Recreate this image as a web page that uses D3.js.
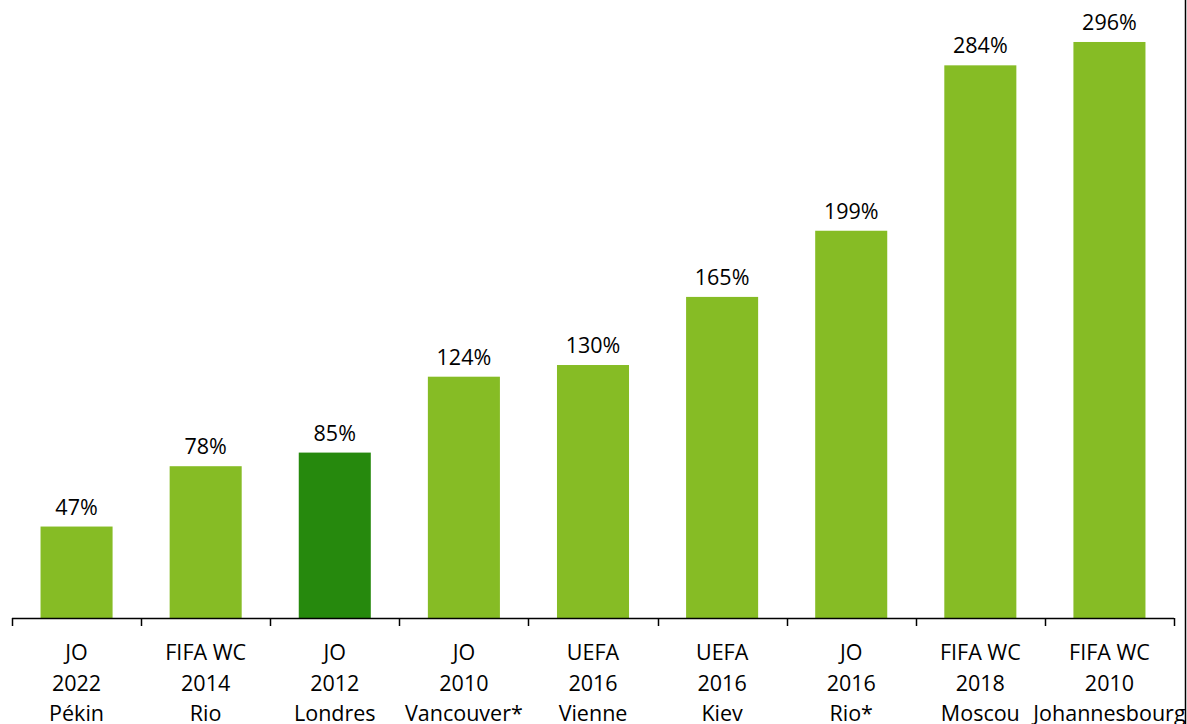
<!DOCTYPE html>
<html><head><meta charset="utf-8">
<script src="https://cdn.jsdelivr.net/npm/d3@7"></script>
<style>body{margin:0;background:#fff}svg{display:block}text{font-family:"Open Sans",sans-serif;fill:#000}</style>
</head><body>
<svg id="c" width="1187" height="724"></svg>
<script>
const categories = [
  ["JO","2022","Pékin"],
  ["FIFA WC","2014","Rio"],
  ["JO","2012","Londres"],
  ["JO","2010","Vancouver*"],
  ["UEFA","2016","Vienne"],
  ["UEFA","2016","Kiev"],
  ["JO","2016","Rio*"],
  ["FIFA WC","2018","Moscou"],
  ["FIFA WC","2010","Johannesbourg"]
];
const values = [47, 78, 85, 124, 130, 165, 199, 284, 296];
const valueLabels = ["47%","78%","85%","124%","130%","165%","199%","284%","296%"];
const highlight = [false, false, true, false, false, false, false, false, false];

const svg = d3.select("#c");
const W = 1187, H = 724;
const x0 = 12, x1 = 1174, yBase = 618;
const p = 0.442;
const x = d3.scaleBand().domain(d3.range(values.length)).range([x0, x1]).paddingInner(p).paddingOuter(p/2);
const y = d3.scaleLinear().domain([0, 300]).range([yBase, yBase - 300*1.946]);

svg.selectAll("rect.bar").data(values).join("rect").attr("class","bar")
  .attr("x",(d,i)=>x(i)).attr("width",x.bandwidth())
  .attr("y",d=>y(d)).attr("height",d=>yBase-y(d))
  .attr("fill",(d,i)=>highlight[i]?"#26890D":"#86BC25");

svg.selectAll("text.val").data(values).join("text").attr("class","val")
  .attr("x",(d,i)=>x(i)+x.bandwidth()/2).attr("y",d=>y(d)-12)
  .attr("text-anchor","middle").attr("font-size",21.5).text((d,i)=>valueLabels[i]);

// axis
const step = x.step();
svg.append("line").attr("x1",x0).attr("x2",x1).attr("y1",yBase+0.5).attr("y2",yBase+0.5)
  .attr("stroke","#000").attr("stroke-width",1.5);
svg.selectAll("line.tick").data(d3.range(values.length+1)).join("line").attr("class","tick")
  .attr("x1",i=>Math.round(x0+i*step)+0.5).attr("x2",i=>Math.round(x0+i*step)+0.5)
  .attr("y1",yBase).attr("y2",yBase+8).attr("stroke","#000").attr("stroke-width",1.5);

const g = svg.selectAll("g.cat").data(categories).join("g").attr("class","cat")
  .attr("transform",(d,i)=>`translate(${x(i)+x.bandwidth()/2},0)`);
g.each(function(d){
  const sel = d3.select(this);
  d.forEach((s,k)=>{
    sel.append("text").attr("x",0).attr("y",660+k*30.5).attr("text-anchor","middle")
      .attr("font-size",21.5).text(s);
  });
});

// right frame edge
svg.append("rect").attr("x",1185).attr("y",0).attr("width",2).attr("height",H).attr("fill","#fff");
svg.append("line").attr("x1",1185.5).attr("x2",1185.5).attr("y1",0).attr("y2",H).attr("stroke","#000").attr("stroke-width",1.5);
</script>
</body></html>
